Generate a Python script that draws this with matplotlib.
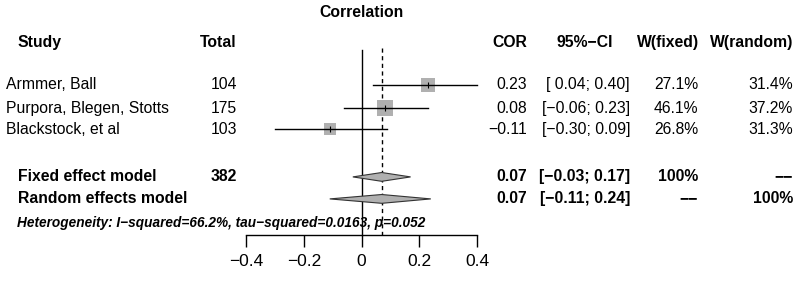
import numpy as np
import matplotlib.pyplot as plt
from matplotlib.patches import Polygon
from matplotlib.transforms import blended_transform_factory

plt.rcParams['font.family'] = ['Liberation Sans', 'DejaVu Sans']

# Study data
studies = ['Armmer, Ball', 'Purpora, Blegen, Stotts', 'Blackstock, et al']
totals = [104, 175, 103]
cor = [0.23, 0.08, -0.11]
ci_lo = [0.04, -0.06, -0.30]
ci_hi = [0.40, 0.23, 0.09]
w_fixed = [27.1, 46.1, 26.8]
w_random = [31.4, 37.2, 31.3]

# Pooled estimates
models = ['Fixed effect model', 'Random effects model']
model_total = ['382', '']
model_est = [0.07, 0.07]
model_lo = [-0.03, -0.11]
model_hi = [0.17, 0.24]
model_wf = ['100%', '\u2212\u2212']
model_wr = ['\u2212\u2212', '100%']
het_text = 'Heterogeneity: I\u2212squared=66.2%, tau\u2212squared=0.0163, p=0.052'

xticks = [-0.4, -0.2, 0, 0.2, 0.4]

W, H = 800, 281
fig = plt.figure(figsize=(W / 100, H / 100), dpi=100)
ax = fig.add_axes([246 / W, (H - 235) / H, 231 / W, 235 / H])

# row layout (row units, ~22 px per row)
study_y = [0, 1.05, 2.02]
model_y = [4.18, 5.18]
het_y = 6.27
head_y = -1.95
title_y = -3.3
ax.set_ylim(6.82, -3.86)
ax.set_xlim(-0.4, 0.4)

# reference lines
ax.plot([0, 0], [-1.6, 6.82], color='black', lw=1.0, clip_on=False)
ax.plot([model_est[0]] * 2, [-1.68, 6.82], color='black', lw=1.0,
        ls=(0, (3, 2.5)), clip_on=False)

# study squares and CIs
for i in range(len(studies)):
    ax.plot(cor[i], study_y[i], marker='s', ms=1.8 * np.sqrt(w_fixed[i]),
            color='#b0b0b0', mew=0, clip_on=False, zorder=2)
    ax.plot([ci_lo[i], ci_hi[i]], [study_y[i]] * 2, color='black', lw=1.0,
            clip_on=False, zorder=3)
    ax.plot(cor[i], study_y[i], marker='|', ms=4, color='black', mew=0.8,
            clip_on=False, zorder=3)

# diamonds
for i in range(len(models)):
    y = model_y[i]
    h = 0.2
    d = Polygon([[model_lo[i], y], [model_est[i], y - h], [model_hi[i], y],
                 [model_est[i], y + h]], closed=True, facecolor='#b0b0b0',
                edgecolor='#333333', lw=0.8, zorder=4, clip_on=False)
    ax.add_patch(d)

for s in ['top', 'right', 'left']:
    ax.spines[s].set_visible(False)
ax.spines['bottom'].set_linewidth(1.0)
ax.set_yticks([])
ax.set_xticks(xticks)
ax.set_xticklabels(['\u22120.4', '\u22120.2', '0', '0.2', '0.4'])
ax.tick_params(axis='x', length=8.6, width=1.0, pad=5, labelsize=12.5)

# text columns
tr = blended_transform_factory(fig.transFigure, ax.transData)
fs = 11.3


def put(xpix, y, s, ha, **kw):
    ax.text(xpix / W, y, s, transform=tr, ha=ha, va='center', fontsize=fs,
            clip_on=False, **kw)


def fmt(v):
    return ('%.2f' % v).replace('-', '\u2212')


def fmt_ci(lo, hi):
    a = fmt(lo) if lo < 0 else ' ' + fmt(lo)
    return '[' + a + '; ' + fmt(hi) + ']'


put(362, title_y, 'Correlation', 'center', fontweight='bold')
put(18, head_y, 'Study', 'left', fontweight='bold')
put(237, head_y, 'Total', 'right', fontweight='bold')
put(527, head_y, 'COR', 'right', fontweight='bold')
put(613, head_y, '95%\u2212CI', 'right', fontweight='bold')
put(699, head_y, 'W(fixed)', 'right', fontweight='bold')
put(793, head_y, 'W(random)', 'right', fontweight='bold')

for i in range(len(studies)):
    y = study_y[i]
    put(6, y, studies[i], 'left')
    put(237, y, str(totals[i]), 'right')
    put(527, y, fmt(cor[i]), 'right')
    put(630, y, fmt_ci(ci_lo[i], ci_hi[i]), 'right')
    put(698, y, '%.1f%%' % w_fixed[i], 'right')
    put(793, y, '%.1f%%' % w_random[i], 'right')

for i in range(len(models)):
    y = model_y[i]
    put(18, y, models[i], 'left', fontweight='bold')
    put(237, y, model_total[i], 'right', fontweight='bold')
    put(527, y, fmt(model_est[i]), 'right', fontweight='bold')
    put(630, y, fmt_ci(model_lo[i], model_hi[i]), 'right', fontweight='bold')
    put(698, y, model_wf[i], 'right', fontweight='bold')
    put(793, y, model_wr[i], 'right', fontweight='bold')

ax.text(17 / W, het_y, het_text, transform=tr, ha='left', va='center',
        fontsize=9.8, fontweight='bold', fontstyle='italic', clip_on=False)

fig.savefig('out.png', dpi=100)
